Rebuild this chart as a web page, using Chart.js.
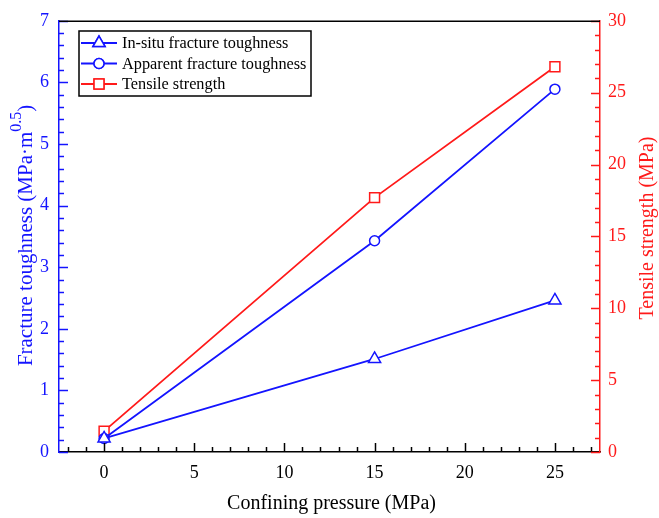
<!DOCTYPE html>
<html>
<head>
<meta charset="utf-8">
<script src="https://cdn.jsdelivr.net/npm/chart.js@4.4.1/dist/chart.umd.min.js"></script>
<style>
  html, body { margin: 0; padding: 0; background: #fff; }
  #wrap { width: 659px; height: 518px; }
</style>
</head>
<body>
<div id="wrap"><canvas id="myChart" width="659" height="518"></canvas></div>
<script>
'use strict';

// data
const pressure = [0, 15, 25];
const inSitu = [0.22, 1.51, 2.46];
const apparent = [0.22, 3.43, 5.89];
const tensile = [1.45, 17.7, 26.8];

const xTicks = [0, 5, 10, 15, 20, 25];
const leftTicks = [0, 1, 2, 3, 4, 5, 6, 7];
const rightTicks = [0, 5, 10, 15, 20, 25, 30];

const BLUE = '#1414ff';
const RED = '#ff1a1a';
const SERIF = '"Liberation Serif", "Times New Roman", serif';

function toPoints(xs, ys) {
    return xs.map((x, i) => ({ x: x, y: ys[i] }));
}

// ticks pointing into the plot, major + minor
const innerTicks = {
    id: 'innerTicks',
    afterDraw(chart) {
        const ctx = chart.ctx;
        const a = chart.chartArea;
        const sx = chart.scales.x, sy = chart.scales.y, sy1 = chart.scales.y1;
        ctx.save();
        ctx.lineWidth = 1.5;

        ctx.strokeStyle = '#000';
        for (let v = -2; v <= 27; v++) {
            const px = Math.round(sx.getPixelForValue(v)) + 0.5;
            const len = v % 5 === 0 ? 9 : 5;
            ctx.beginPath();
            ctx.moveTo(px, a.bottom);
            ctx.lineTo(px, a.bottom - len);
            ctx.stroke();
        }

        ctx.strokeStyle = BLUE;
        for (let i = 0; i <= 35; i++) {
            const v = i / 5;
            const py = Math.round(sy.getPixelForValue(v)) + 0.5;
            const len = i % 5 === 0 ? 9 : 5;
            ctx.beginPath();
            ctx.moveTo(a.left, py);
            ctx.lineTo(a.left + len, py);
            ctx.stroke();
        }

        ctx.strokeStyle = RED;
        for (let v = 0; v <= 30; v++) {
            const py = Math.round(sy1.getPixelForValue(v)) + 0.5;
            const len = v % 5 === 0 ? 9 : 5;
            ctx.beginPath();
            ctx.moveTo(a.right, py);
            ctx.lineTo(a.right - len, py);
            ctx.stroke();
        }

        // top frame line
        ctx.strokeStyle = '#000';
        ctx.beginPath();
        ctx.moveTo(a.left, a.top + 0.5);
        ctx.lineTo(a.right, a.top + 0.5);
        ctx.stroke();
        ctx.restore();
    }
};

// axis titles (left one needs a superscript)
const axisTitles = {
    id: 'axisTitles',
    afterDraw(chart) {
        const ctx = chart.ctx;
        const a = chart.chartArea;
        const midY = (a.top + a.bottom) / 2;
        ctx.save();
        ctx.textBaseline = 'middle';

        ctx.fillStyle = '#000';
        ctx.font = '20px ' + SERIF;
        ctx.textAlign = 'center';
        ctx.fillText('Confining pressure (MPa)', (a.left + a.right) / 2 + 2, 504);

        // left title
        ctx.save();
        ctx.translate(26, midY - 1);
        ctx.rotate(-Math.PI / 2);
        ctx.fillStyle = BLUE;
        const main = 'Fracture toughness (MPa\u00b7m';
        const sup = '0.5';
        const close = ')';
        ctx.font = '21px ' + SERIF;
        const w1 = ctx.measureText(main).width;
        const w3 = ctx.measureText(close).width;
        ctx.font = '16px ' + SERIF;
        const w2 = ctx.measureText(sup).width;
        let x0 = -(w1 + w2 + w3) / 2;
        ctx.textAlign = 'left';
        ctx.font = '21px ' + SERIF;
        ctx.fillText(main, x0, 0);
        ctx.font = '16px ' + SERIF;
        ctx.fillText(sup, x0 + w1, -9);
        ctx.font = '21px ' + SERIF;
        ctx.fillText(close, x0 + w1 + w2, 0);
        ctx.restore();

        // right title
        ctx.save();
        ctx.translate(648, 228);
        ctx.rotate(-Math.PI / 2);
        ctx.fillStyle = RED;
        ctx.font = '20px ' + SERIF;
        ctx.textAlign = 'center';
        ctx.fillText('Tensile strength (MPa)', 0, 0);
        ctx.restore();

        ctx.restore();
    }
};

// boxed legend in the upper left of the plot
const boxLegend = {
    id: 'boxLegend',
    afterDraw(chart) {
        const ctx = chart.ctx;
        const left = 79, top = 31, w = 232, h = 65, rowH = 20.5;
        ctx.save();
        ctx.fillStyle = '#fff';
        ctx.fillRect(left, top, w, h);
        ctx.strokeStyle = '#000';
        ctx.lineWidth = 1.5;
        ctx.strokeRect(left, top, w, h);
        chart.data.datasets.forEach((ds, i) => {
            const y = top + 12 + i * rowH;
            ctx.strokeStyle = ds.borderColor;
            ctx.lineWidth = 1.8;
            ctx.beginPath();
            ctx.moveTo(left + 2, y);
            ctx.lineTo(left + 38, y);
            ctx.stroke();
            ctx.lineWidth = 1.5;
            ctx.fillStyle = '#fff';
            Chart.helpers.drawPoint(ctx, {
                pointStyle: ds.pointStyle,
                radius: ds.pointRadius,
                borderWidth: 1.5,
                rotation: 0
            }, left + 20, y);
            ctx.fill();
            ctx.stroke();
            ctx.fillStyle = '#000';
            ctx.font = '16.3px ' + SERIF;
            ctx.textAlign = 'left';
            ctx.textBaseline = 'middle';
            ctx.fillText(ds.label, left + 43, y + 1);
        });
        ctx.restore();
    }
};

const ctx = document.getElementById('myChart').getContext('2d');
const chart = new Chart(ctx, {
    type: 'line',
    data: {
        datasets: [{
            label: 'In-situ fracture toughness',
            data: toPoints(pressure, inSitu),
            borderColor: BLUE,
            backgroundColor: '#fff',
            pointStyle: 'triangle',
            pointRadius: 7,
            pointBorderWidth: 1.5,
            borderWidth: 1.8,
            yAxisID: 'y'
        }, {
            label: 'Apparent fracture toughness',
            data: toPoints(pressure, apparent),
            borderColor: BLUE,
            backgroundColor: '#fff',
            pointStyle: 'circle',
            pointRadius: 5,
            pointBorderWidth: 1.5,
            borderWidth: 1.8,
            yAxisID: 'y'
        }, {
            label: 'Tensile strength',
            data: toPoints(pressure, tensile),
            borderColor: RED,
            backgroundColor: '#fff',
            pointStyle: 'rect',
            pointRadius: 7,
            pointBorderWidth: 1.5,
            borderWidth: 1.8,
            yAxisID: 'y1'
        }]
    },
    options: {
        responsive: false,
        animation: false,
        layout: { padding: { top: 16, left: 0, right: 0, bottom: 0 } },
        plugins: {
            legend: { display: false },
            tooltip: { enabled: false }
        },
        scales: {
            x: {
                type: 'linear',
                min: -2.5,
                max: 27.5,
                afterBuildTicks: (scale) => { scale.ticks = xTicks.map(v => ({ value: v })); },
                afterFit: (scale) => { scale.height = 66; },
                grid: { display: false, drawTicks: false },
                border: { display: true, color: '#000', width: 1.5 },
                ticks: { color: '#000', padding: 10, font: { family: SERIF, size: 18 } }
            },
            y: {
                position: 'left',
                min: 0,
                max: 7,
                afterBuildTicks: (scale) => { scale.ticks = leftTicks.map(v => ({ value: v })); },
                afterFit: (scale) => { scale.width = 59; },
                grid: { display: false, drawTicks: false },
                border: { display: true, color: BLUE, width: 1.5 },
                ticks: { color: BLUE, padding: 10, font: { family: SERIF, size: 18 } }
            },
            y1: {
                position: 'right',
                min: 0,
                max: 30,
                afterBuildTicks: (scale) => { scale.ticks = rightTicks.map(v => ({ value: v })); },
                afterFit: (scale) => { scale.width = 59; },
                grid: { display: false, drawTicks: false },
                border: { display: true, color: RED, width: 1.5 },
                ticks: { color: RED, padding: 8, font: { family: SERIF, size: 18 } }
            }
        }
    },
    plugins: [innerTicks, axisTitles, boxLegend]
});
</script>
</body>
</html>
